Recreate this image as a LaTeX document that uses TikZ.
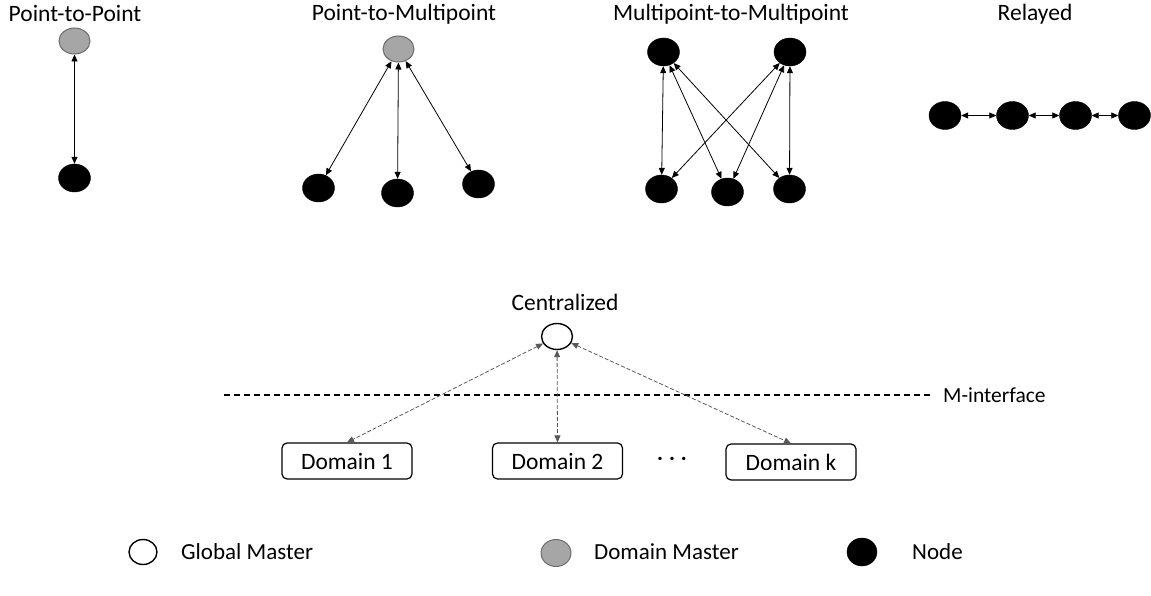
\documentclass[tikz,border=0pt]{standalone}
\usepackage{fontspec}
\setmainfont{Carlito}
\usetikzlibrary{shapes.geometric,arrows.meta}
\begin{document}
\begin{tikzpicture}[x=1pt,y=-1pt,
  every node/.style={font=\fontsize{23.5}{28}\selectfont, inner sep=0pt},
  legendtext/.style={anchor=west, font=\fontsize{23}{27}\selectfont},
  gmaster/.style={ellipse, draw=black, line width=1.4pt, fill=white, minimum width=31pt, minimum height=26pt},
  dmaster/.style={ellipse, draw=gray!85!black, line width=1pt, fill=gray!70, minimum width=31pt, minimum height=26pt},
  plainnode/.style={ellipse, draw=black, fill=black, minimum width=32pt, minimum height=28pt},
  domainbox/.style={draw=black, line width=1.2pt, rounded corners=5pt, minimum width=130pt, minimum height=36pt},
  link/.style={line width=0.8pt, {Triangle[length=7pt,width=6pt]}-{Triangle[length=7pt,width=6pt]}},
  mlink/.style={line width=0.8pt, draw=black!65, dash pattern=on 4pt off 2pt,
    {Triangle[length=7pt,width=6pt]}-{Triangle[length=7pt,width=6pt]}},
  title/.style={anchor=center}
]
\useasboundingbox (0,0) rectangle (1151,596);

% Point-to-Point
\node[title] (t1) at (75,14) {Point-to-Point};
\node[dmaster] (p1m) at (74.5,41) {};
\node[plainnode] (p1n) at (74.5,178) {};
\draw[link] (p1m) -- (p1n);

% Point-to-Multipoint
\node[title] (t2) at (404,14) {Point-to-Multipoint};
\node[dmaster] (p2m) at (398.5,49) {};
\node[plainnode] (p2a) at (318.5,188) {};
\node[plainnode] (p2b) at (397.5,193) {};
\node[plainnode] (p2c) at (478.5,184) {};
\draw[link] (p2m) -- (p2a);
\draw[link] (p2m) -- (p2b);
\draw[link] (p2m) -- (p2c);

% Multipoint-to-Multipoint
\node[title] (t3) at (731,14) {Multipoint-to-Multipoint};
\node[plainnode] (mtl) at (663.5,52) {};
\node[plainnode] (mtr) at (790,52) {};
\node[plainnode] (mbl) at (661.5,189) {};
\node[plainnode] (mbm) at (727.5,192) {};
\node[plainnode] (mbr) at (789.5,189) {};
\draw[link] (mtl) -- (mbl);
\draw[link] (mtl) -- (mbm);
\draw[link] (mtl) -- (mbr);
\draw[link] (mtr) -- (mbl);
\draw[link] (mtr) -- (mbm);
\draw[link] (mtr) -- (mbr);

% Relayed
\node[title] (t4) at (1035,14) {Relayed};
\node[plainnode] (r1) at (945,115.5) {};
\node[plainnode] (r2) at (1012.5,115.5) {};
\node[plainnode] (r3) at (1075.5,115.5) {};
\node[plainnode] (r4) at (1134.5,115.5) {};
\draw[link] (r1) -- (r2);
\draw[link] (r2) -- (r3);
\draw[link] (r3) -- (r4);

% Centralized
\node[title] (t5) at (565,302) {Centralized};
\node[gmaster] (gm) at (557,336.5) {};
\coordinate (mil) at (224,395);
\coordinate (mir) at (930,395);
\draw[line width=1.3pt, dash pattern=on 6pt off 4pt] (mil) -- (mir);
\node[anchor=west, font=\fontsize{21.5}{26}\selectfont] (mlabel) at (943,395) {M-interface};
\node[domainbox] (d1) at (347,461) {Domain 1};
\node[domainbox] (d2) at (557.5,461) {Domain 2};
\node[domainbox] (dk) at (791,462) {Domain k};
\node (dots) at (672,461) {·\hspace{6pt}·\hspace{6pt}·};
\draw[mlink] (gm) -- (d1.north);
\draw[mlink] (gm) -- (d2.north);
\draw[mlink] (gm) -- (dk.north);

% Legend
\node[gmaster, minimum width=28pt, minimum height=25pt] (lg) at (143,552) {};
\node[legendtext] (lgt) at (181,552) {Global Master};
\node[dmaster, minimum width=30pt, minimum height=27pt] (ld) at (556,553) {};
\node[legendtext] (ldt) at (594,552) {Domain Master};
\node[plainnode, minimum width=30pt, minimum height=28pt] (ln) at (862,552) {};
\node[legendtext] (lnt) at (912,552) {Node};
\end{tikzpicture}
\end{document}
